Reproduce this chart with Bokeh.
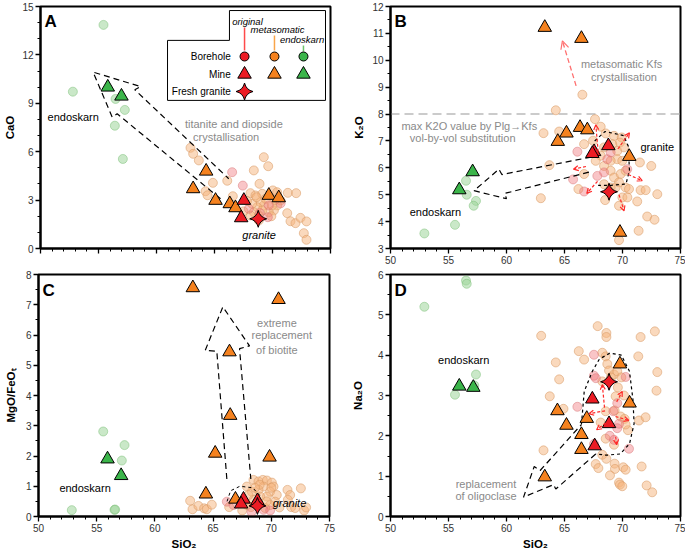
from bokeh.plotting import figure
from bokeh.models import Range1d, SingleIntervalTicker, Arrow, OpenHead
from bokeh.layouts import column, row
from bokeh.embed import file_html
from bokeh.resources import INLINE
from bokeh.core.properties import value

FONT = "Liberation Sans"

# ---------------- Panel A: CaO vs SiO2 ----------------
A_bh_endo_si = [55.43, 52.79, 56.47, 57.27, 56.41, 57.10]
A_bh_endo_v = [13.86, 9.72, 9.27, 8.59, 7.61, 5.55]
A_bh_meta_si = [62.93, 63.16, 63.65, 64.86, 64.23, 64.40, 66.58, 66.10, 69.25, 69.63, 68.39, 68.88, 68.10,
                68.53, 69.11, 70.03, 70.40, 71.32, 72.04, 71.27, 71.55, 71.98, 72.41, 72.93, 72.70, 72.93,
                70.69, 70.40, 70.12, 69.68, 69.25, 68.97, 68.68, 69.11, 69.40, 68.25, 68.39, 68.82, 68.10,
                68.82, 69.97, 68.62, 67.80, 67.50, 69.90, 70.20]
A_bh_meta_v = [6.24, 5.87, 5.46, 4.07, 3.55, 3.30, 3.24, 4.20, 5.66, 5.10, 4.84, 4.01, 3.43,
               3.29, 3.39, 3.60, 3.49, 3.45, 3.43, 2.19, 1.69, 1.57, 1.90, 1.68, 0.95, 0.54,
               2.98, 2.67, 2.36, 2.25, 2.67, 2.87, 2.56, 2.36, 3.08, 2.77, 2.25, 2.05, 2.05,
               1.74, 2.67, 3.18, 2.95, 2.30, 2.00, 3.00]
A_bh_orig_si = [66.52, 67.44, 69.68, 67.96, 69.60, 70.70, 68.90]
A_bh_orig_v = [4.73, 3.90, 2.67, 2.46, 1.94, 2.80, 2.20]
A_mine_meta_si = [63.16, 64.28, 65.09, 66.32, 66.81, 69.68, 70.54]
A_mine_meta_v = [3.70, 4.79, 2.98, 2.77, 2.52, 3.29, 3.14]
A_mine_orig_si = [67.53, 67.30]
A_mine_orig_v = [2.98, 1.90]
A_mine_endo_si = [55.80, 56.98]
A_mine_endo_v = [10.00, 9.44]
A_fresh_si = [68.77]
A_fresh_v = [1.84]

# ---------------- Panel B: K2O vs SiO2 ----------------
B_bh_endo_si = [56.51, 56.57, 57.37, 57.17, 55.56, 52.92]
B_bh_endo_v = [5.52, 5.00, 4.77, 4.59, 3.88, 3.56]
B_bh_meta_si = [66.54, 64.25, 63.19, 64.54, 63.70, 62.96, 66.20, 67.63, 68.12, 67.46, 68.55, 69.27, 69.93,
                69.78, 69.12, 68.41, 68.12, 69.55, 70.13, 69.55, 68.98, 68.41, 67.69, 66.69, 66.69, 68.98,
                69.27, 69.84, 70.27, 70.27, 70.56, 69.70, 69.41, 68.98, 68.41, 68.50, 69.70, 69.99, 70.42,
                71.56, 72.00, 73.00, 71.27, 72.48, 71.50, 72.13, 72.76, 71.39, 69.70, 69.98]
B_bh_meta_v = [8.72, 8.14, 7.29, 7.35, 6.10, 4.87, 5.21, 7.81, 7.53, 7.01, 7.28, 7.19, 7.13,
               6.94, 6.88, 6.76, 6.45, 6.63, 6.76, 6.32, 6.26, 6.07, 6.26, 6.88, 5.77, 5.89,
               5.64, 5.77, 5.89, 5.27, 5.21, 5.46, 5.27, 5.27, 5.39, 4.80, 4.59, 4.90, 4.90,
               5.17, 5.17, 5.02, 4.75, 6.07, 6.20, 4.19, 4.07, 3.66, 3.31, 6.26]
B_bh_orig_si = [66.11, 65.74, 67.83, 68.41, 68.98, 68.69, 70.41, 66.69]
B_bh_orig_v = [6.60, 5.57, 5.70, 5.83, 6.57, 6.32, 5.95, 5.12]
B_mine_meta_si = [63.30, 66.46, 66.34, 66.97, 65.17, 64.42, 70.58, 69.78]
B_mine_meta_v = [11.22, 10.81, 7.50, 7.41, 7.29, 6.98, 6.42, 3.60]
B_mine_orig_si = [68.78, 67.55, 67.40]
B_mine_orig_v = [6.82, 6.60, 6.53]
B_mine_endo_si = [57.08, 55.93]
B_mine_endo_v = [5.85, 5.18]
B_fresh_si = [68.84]
B_fresh_v = [5.11]
B_plg_kfs_max = 8.0

# ---------------- Panel C: MgO/FeOt vs SiO2 ----------------
C_bh_endo_si = [55.56, 57.39, 57.16, 52.86, 56.53, 56.58]
C_bh_endo_v = [2.81, 2.36, 1.85, 0.21, 0.22, 0.23]
C_bh_meta_si = [63.03, 63.23, 63.74, 64.23, 64.46, 64.89, 66.38, 67.90, 68.47, 68.90, 69.27, 69.62, 70.05,
                70.19, 69.33, 68.90, 68.33, 69.90, 70.47, 69.62, 69.04, 68.47, 68.04, 67.90, 70.33, 69.90,
                71.39, 71.62, 72.54, 71.42, 71.71, 72.05, 72.82, 72.99, 68.76, 69.47, 68.24, 69.00, 70.00,
                68.60, 69.60, 70.70, 67.50]
C_bh_meta_v = [0.52, 0.24, 0.35, 0.27, 0.24, 0.39, 0.31, 0.99, 1.21, 1.16, 1.21, 1.19, 1.12,
               0.99, 0.99, 0.88, 0.82, 0.82, 0.71, 0.66, 0.66, 0.55, 0.71, 0.38, 0.49, 0.38,
               0.88, 0.71, 0.93, 0.55, 0.31, 0.28, 0.20, 0.30, 0.44, 0.28, 0.31, 1.05, 0.95,
               0.95, 0.50, 0.30, 0.20]
C_bh_orig_si = [66.18, 66.75, 69.33, 68.30, 69.90]
C_bh_orig_v = [0.49, 0.38, 0.22, 0.15, 0.20]
C_mine_meta_si = [63.26, 70.62, 66.41, 66.47, 65.18, 69.85, 64.38, 66.92]
C_mine_meta_v = [7.56, 7.17, 5.44, 3.34, 2.09, 1.96, 0.74, 0.57]
C_mine_orig_si = [67.61, 67.41, 68.81]
C_mine_orig_v = [0.57, 0.41, 0.52]
C_mine_endo_si = [55.93, 57.10]
C_mine_endo_v = [1.90, 1.35]
C_fresh_si = [68.81]
C_fresh_v = [0.35]

# ---------------- Panel D: Na2O vs SiO2 ----------------
D_bh_endo_si = [56.51, 56.57, 52.92, 57.37, 55.56, 57.22]
D_bh_endo_v = [5.85, 5.77, 5.20, 3.52, 3.02, 3.25]
D_bh_meta_si = [62.99, 66.23, 64.25, 64.54, 63.73, 64.91, 63.19, 66.69, 67.86, 68.61, 68.61, 68.26, 68.55,
                68.69, 68.84, 69.27, 69.55, 68.26, 69.41, 70.13, 68.55, 69.32, 69.84, 70.18, 70.47, 70.27,
                68.12, 68.55, 69.27, 67.69, 67.92, 68.26, 68.61, 69.32, 69.35, 70.07, 70.27, 68.92, 69.70,
                69.78, 69.98, 71.36, 71.56, 72.79, 73.00, 72.93, 71.42, 71.99, 71.65, 72.08, 72.56, 69.00,
                69.60, 69.90]
D_bh_meta_v = [4.48, 4.10, 3.82, 3.40, 2.98, 2.67, 1.64, 3.89, 4.72, 4.55, 4.45, 4.06, 3.97,
               3.78, 3.62, 3.52, 3.60, 3.35, 2.98, 3.00, 2.61, 2.63, 2.48, 2.42, 2.14, 2.28,
               2.33, 1.93, 1.78, 1.30, 1.20, 1.53, 1.43, 1.31, 1.18, 1.22, 1.16, 1.02, 0.84,
               0.79, 0.75, 3.97, 4.45, 4.59, 3.58, 3.12, 2.38, 2.46, 1.24, 0.77, 0.60, 3.45,
               3.20, 3.45]
D_bh_orig_si = [67.54, 67.54, 67.70, 66.11, 69.21, 69.55, 70.27, 70.56, 69.27, 69.55, 67.55, 69.70, 68.90]
D_bh_orig_v = [4.01, 3.49, 3.43, 2.72, 2.61, 2.81, 3.46, 1.68, 1.90, 2.19, 1.80, 2.30, 2.00]
D_mine_meta_si = [69.78, 70.61, 64.39, 65.17, 66.92, 66.46, 66.46, 63.30]
D_mine_meta_v = [3.78, 2.81, 2.62, 2.26, 2.43, 2.03, 1.66, 0.98]
D_mine_orig_si = [67.40, 68.84, 67.60]
D_mine_orig_v = [2.91, 2.30, 1.75]
D_mine_endo_si = [55.93, 57.14]
D_mine_endo_v = [3.23, 3.20]
D_fresh_si = [68.84]
D_fresh_v = [3.34]

# colours
RED, ORANGE, GREEN = "#ec1c24", "#f5821f", "#3bb54a"
GREY = "#8a8a8a"
X_TICKS = [50, 55, 60, 65, 70, 75]


def make_fig(w, h, bl, br, bt, bb, yr, yint, yminor, ylabel, ystand, xlabels=True, xlabel=None):
    p = figure(width=w, height=h, x_range=Range1d(50, 75), y_range=Range1d(*yr),
               output_backend="svg", toolbar_location=None,
               min_border_left=bl, min_border_right=br, min_border_top=bt, min_border_bottom=bb)
    p.grid.visible = False
    p.outline_line_color = "black"
    p.outline_line_width = 2
    p.background_fill_color = "white"
    p.border_fill_color = "white"
    p.xaxis.ticker = SingleIntervalTicker(interval=5, num_minor_ticks=5)
    p.yaxis.ticker = SingleIntervalTicker(interval=yint, num_minor_ticks=yminor)
    for ax in (p.xaxis, p.yaxis):
        ax.axis_line_width = 2
        ax.major_tick_line_width = 1.3
        ax.minor_tick_line_width = 1
        ax.major_tick_out = 5
        ax.major_tick_in = 0
        ax.minor_tick_out = 3
        ax.minor_tick_in = 0
        ax.major_label_text_font = FONT
        ax.major_label_text_font_size = "10px"
        ax.major_label_text_color = "#333333"
        ax.major_label_standoff = 2
        ax.axis_label_text_font = FONT
        ax.axis_label_text_font_size = "11.5px"
        ax.axis_label_text_font_style = "bold"
        ax.axis_label_text_color = "black"
    p.yaxis.axis_label = ylabel
    p.yaxis.axis_label_standoff = ystand
    if not xlabels:
        p.xaxis.major_label_overrides = {t: "" for t in X_TICKS}
        p.xaxis.major_label_standoff = 0
    if xlabel:
        p.xaxis.axis_label = xlabel
        p.xaxis.axis_label_standoff = 3
    return p


def draw_points(p, d):
    (be_x, be_y, bm_x, bm_y, bo_x, bo_y, mm_x, mm_y, mo_x, mo_y, me_x, me_y, f_x, f_y) = d
    p.scatter(be_x, be_y, size=9, fill_color="#9ed69a", fill_alpha=0.55,
              line_color="#7cbf78", line_alpha=0.5)
    p.scatter(bm_x, bm_y, size=9, fill_color="#f6b47c", fill_alpha=0.5,
              line_color="#d99b66", line_alpha=0.55)
    p.scatter(bo_x, bo_y, size=9, fill_color="#ef6f74", fill_alpha=0.4,
              line_color="#d9777a", line_alpha=0.5)


def draw_mine(p, d):
    (be_x, be_y, bm_x, bm_y, bo_x, bo_y, mm_x, mm_y, mo_x, mo_y, me_x, me_y, f_x, f_y) = d
    p.scatter(mm_x, mm_y, marker="triangle", size=13.5, fill_color=ORANGE, line_color="black", line_width=1)
    p.scatter(mo_x, mo_y, marker="triangle", size=13.5, fill_color=RED, line_color="black", line_width=1)
    p.scatter(me_x, me_y, marker="triangle", size=13.5, fill_color=GREEN, line_color="black", line_width=1)
    p.scatter(f_x, f_y, marker="square_pin", angle=0.785398, size=12, fill_color=RED,
              line_color="black", line_width=1)


def txt(p, x, y, t, size="11px", color="black", style="normal", align="center", baseline="middle"):
    p.text(x=[x], y=[y], text=[t], text_font=value(FONT), text_font_size=size, text_color=color,
           text_font_style=style, text_align=align, text_baseline=baseline)


def dashed(p, xs, ys, color="black", width=1.2, dash="6 4"):
    p.line(xs, ys, line_color=color, line_width=width, line_dash=dash)


def red_arrow(p, x0, y0, x1, y1):
    p.add_layout(Arrow(end=OpenHead(size=5, line_color="#ff2a2a", line_width=1.2),
                       x_start=x0, y_start=y0, x_end=x1, y_end=y1,
                       line_color="#ff2a2a", line_width=1.2, line_dash="3 2"))


# ---------------- figure A ----------------
pa = make_fig(346, 268, 40, 16, 6, 20, (0, 15), 3, 3, "CaO", 3, xlabels=False)
dA = (A_bh_endo_si, A_bh_endo_v, A_bh_meta_si, A_bh_meta_v, A_bh_orig_si, A_bh_orig_v,
      A_mine_meta_si, A_mine_meta_v, A_mine_orig_si, A_mine_orig_v, A_mine_endo_si, A_mine_endo_v,
      A_fresh_si, A_fresh_v)
draw_points(pa, dA)
dashed(pa, [65.52, 56.61, 56.18, 54.54, 58.62, 58.13, 66.23],
       [3.08, 8.35, 8.14, 10.93, 10.04, 9.84, 4.32])
draw_mine(pa, dA)
txt(pa, 50.35, 14.65, "A", size="17px", style="bold", align="left", baseline="top")
txt(pa, 52.82, 8.18, "endoskarn")
txt(pa, 66.67, 7.69, "titanite and diopside", color=GREY)
txt(pa, 66.0, 6.94, "crystallisation", color=GREY)
txt(pa, 68.85, 0.81, "granite", style="italic")
# legend box
pa.patch([60.95, 66.29, 66.29, 74.57, 74.57, 60.95], [12.9, 12.9, 14.75, 14.75, 9.18, 9.18],
         fill_color="white", line_color="black", line_width=1)
lx = [67.59, 70.17, 72.67]
pa.segment(x0=lx, y0=[13.70, 13.21, 12.59], x1=lx, y1=[12.28, 12.28, 12.21],
           line_color=["#ff4a4a", "#f9a54a", "#6cc46c"], line_width=1.5)
txt(pa, 67.84, 14.1, "original", size="9.5px", style="italic")
txt(pa, 70.43, 13.6, "metasomatic", size="9.5px", style="italic")
txt(pa, 72.55, 12.95, "endoskarn", size="9.5px", style="italic")
pa.scatter(lx, [11.90] * 3, size=9, fill_color=[RED, ORANGE, GREEN], line_color="black")
pa.scatter(lx, [10.80] * 3, marker="triangle", size=13.5, fill_color=[RED, ORANGE, GREEN], line_color="black")
pa.scatter([67.59], [9.73], marker="square_pin", angle=0.785398, size=12, fill_color=RED, line_color="black")
txt(pa, 66.4, 11.90, "Borehole", size="10px", align="right")
txt(pa, 66.4, 10.80, "Mine", size="10px", align="right")
txt(pa, 66.4, 9.73, "Fresh granite", size="10px", align="right")

# ---------------- figure B ----------------
pb = make_fig(339, 268, 44, 5, 6, 20, (3, 12), 1, 2, "K₂O", 4)
dB = (B_bh_endo_si, B_bh_endo_v, B_bh_meta_si, B_bh_meta_v, B_bh_orig_si, B_bh_orig_v,
      B_mine_meta_si, B_mine_meta_v, B_mine_orig_si, B_mine_orig_v, B_mine_endo_si, B_mine_endo_v,
      B_fresh_si, B_fresh_v)
pb.line([50, 75], [B_plg_kfs_max, B_plg_kfs_max], line_color="#bbbbbb", line_width=1.5, line_dash="9 5")
draw_points(pb, dB)
dashed(pb, [67.3, 59.6, 59.35, 57.2, 60.0, 59.85, 67.2], [6.4, 5.75, 5.95, 5.15, 4.85, 5.05, 5.85])
dashed(pb, [67.6, 68.5, 70.1, 70.5, 70.6, 70.3, 69.0, 67.9], [7.0, 7.35, 7.2, 6.8, 5.9, 5.4, 5.35, 5.35],
       width=1.2, dash="3 3")
pb.add_layout(Arrow(end=OpenHead(size=8, line_color="#ff7070", line_width=1.2),
                    x_start=66.0, y_start=9.05, x_end=64.82, y_end=10.72,
                    line_color="#ff7070", line_width=1.3, line_dash="5 3"))
for a in [(67.9, 6.6, 67.7, 7.6), (69.6, 6.7, 70.6, 7.3), (70.5, 5.75, 71.7, 5.52),
          (69.7, 5.0, 70.13, 4.4), (67.85, 5.5, 66.92, 5.05), (66.85, 6.05, 65.77, 5.95)]:
    red_arrow(pb, *a)
draw_mine(pb, dB)
txt(pb, 50.35, 11.78, "B", size="17px", style="bold", align="left", baseline="top")
txt(pb, 69.92, 9.86, "metasomatic Kfs", color=GREY)
txt(pb, 70.12, 9.38, "crystallisation", color=GREY)
txt(pb, 56.79, 7.54, "max K2O value by Plg→Kfs", color=GREY)
txt(pb, 56.22, 7.12, "vol-by-vol substitution", color=GREY)
txt(pb, 73.0, 6.76, "granite")
txt(pb, 53.87, 4.34, "endoskarn")

# ---------------- figure C ----------------
pc = make_fig(346, 285, 38, 17, 6, 37, (0, 8), 1, 2, "MgO/FeOₜ", 6, xlabel="SiO₂")
dC = (C_bh_endo_si, C_bh_endo_v, C_bh_meta_si, C_bh_meta_v, C_bh_orig_si, C_bh_orig_v,
      C_mine_meta_si, C_mine_meta_v, C_mine_orig_si, C_mine_orig_v, C_mine_endo_si, C_mine_endo_v,
      C_fresh_si, C_fresh_v)
draw_points(pc, dC)
dashed(pc, [66.18, 65.32, 64.32, 65.84, 68.13, 67.27, 68.24], [1.24, 5.46, 5.49, 6.93, 5.64, 5.55, 1.24])
dashed(pc, [66.2, 66.5, 67.3, 68.4, 69.0, 68.9], [0.5, 0.85, 1.0, 0.95, 0.7, 0.15], width=1, dash="3 3")
draw_mine(pc, dC)
txt(pc, 50.35, 7.8, "C", size="17px", style="bold", align="left", baseline="top")
txt(pc, 70.48, 6.41, "extreme", color=GREY)
txt(pc, 70.9, 5.99, "replacement", color=GREY)
txt(pc, 70.48, 5.49, "of biotite", color=GREY)
txt(pc, 54.0, 0.93, "endoskarn")
txt(pc, 71.56, 0.43, "granite", style="italic")

# ---------------- figure D ----------------
pd_ = make_fig(339, 285, 44, 5, 6, 37, (0, 6), 1, 2, "Na₂O", 11, xlabel="SiO₂")
dD = (D_bh_endo_si, D_bh_endo_v, D_bh_meta_si, D_bh_meta_v, D_bh_orig_si, D_bh_orig_v,
      D_mine_meta_si, D_mine_meta_v, D_mine_orig_si, D_mine_orig_v, D_mine_endo_si, D_mine_endo_v,
      D_fresh_si, D_fresh_v)
draw_points(pd_, dD)
dashed(pd_, [67.69, 64.25, 64.05, 61.47, 62.39, 62.90, 66.46],
       [1.55, 0.68, 0.79, 0.48, 1.24, 1.14, 2.28])
dashed(pd_, [66.46, 66.7, 67.4, 68.0, 68.9, 69.9, 70.6, 70.9, 71.0, 70.6, 69.8, 68.6, 67.69],
       [2.28, 3.1, 3.6, 3.9, 4.05, 4.0, 3.6, 2.9, 2.3, 1.8, 1.55, 1.52, 1.55], width=1.2, dash="3 3")
for a in [(68.45, 2.7, 68.26, 3.27), (69.5, 2.84, 69.98, 3.1), (68.5, 2.62, 67.1, 2.55),
          (69.4, 2.48, 70.55, 2.38), (68.55, 2.32, 67.77, 2.15), (69.41, 1.98, 69.5, 1.78)]:
    red_arrow(pd_, *a)
draw_mine(pd_, dD)
txt(pd_, 50.35, 5.85, "D", size="17px", style="bold", align="left", baseline="top")
txt(pd_, 56.31, 3.87, "endoskarn")
txt(pd_, 58.23, 0.81, "replacement", color=GREY)
txt(pd_, 58.23, 0.51, "of oligoclase", color=GREY)

layout = column(row(pa, pb), row(pc, pd_))
open("out.html", "w").write(file_html(layout, INLINE))
